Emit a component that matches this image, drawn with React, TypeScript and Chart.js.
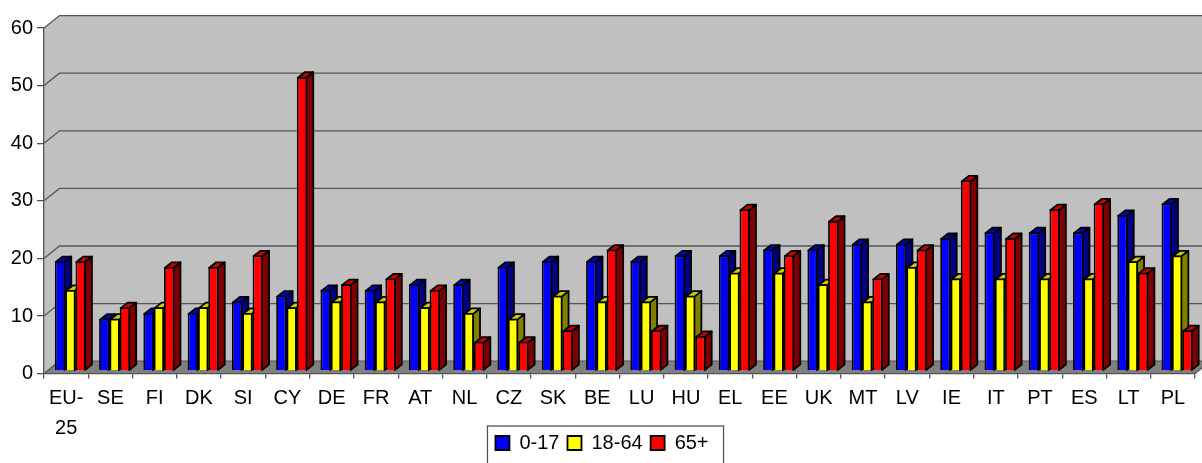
import React, { useEffect, useRef } from "react";
import { Chart, registerables } from "chart.js";

Chart.register(...registerables);

const categories: (string | string[])[] = [["EU-", "25"], "SE", "FI", "DK", "SI", "CY", "DE", "FR", "AT", "NL", "CZ", "SK", "BE", "LU", "HU", "EL", "EE", "UK", "MT", "LV", "IE", "IT", "PT", "ES", "LT", "PL"];
const age0to17 = [19, 9, 10, 10, 12, 13, 14, 14, 15, 15, 18, 19, 19, 19, 20, 20, 21, 21, 22, 22, 23, 24, 24, 24, 27, 29];
const age18to64 = [14, 9, 11, 11, 10, 11, 12, 12, 11, 10, 9, 13, 12, 12, 13, 17, 17, 15, 12, 18, 16, 16, 16, 16, 19, 20];
const age65plus = [19, 11, 18, 18, 20, 51, 15, 16, 14, 5, 5, 7, 21, 7, 6, 28, 20, 26, 16, 21, 33, 23, 28, 29, 17, 7];
const yTicks = [0, 10, 20, 30, 40, 50, 60];

const FONT = "'Liberation Sans', Arial, sans-serif";
const WALL_DX = 15.5;
const WALL_DY = -12.4;
const BAR_DX = 4.2;
const BAR_DY = -3;
const DEPTH_DX = 7;
const DEPTH_DY = -5.5;
const faces = [
  { top: "#0000c0", side: "#000080" },
  { top: "#cccc00", side: "#808000" },
  { top: "#cc0000", side: "#800000" },
];

const plugin3d = {
  id: "plugin3d",
  afterLayout(chart: any) {
    // keep tall / wide tick labels from being clipped to the axis boxes
    chart.scales.y.left = 0;
    chart.scales.x.bottom = chart.height;
  },
  beforeDraw(chart: any) {
    const { ctx, chartArea: a, scales } = chart;
    const y = scales.y;
    ctx.save();
    ctx.fillStyle = "#c0c0c0";
    ctx.beginPath();
    ctx.moveTo(a.left, a.bottom);
    ctx.lineTo(a.left, a.top);
    ctx.lineTo(a.left + WALL_DX, a.top + WALL_DY);
    ctx.lineTo(a.right + WALL_DX, a.top + WALL_DY);
    ctx.lineTo(a.right + WALL_DX, a.bottom + WALL_DY);
    ctx.lineTo(a.left + WALL_DX, a.bottom + WALL_DY);
    ctx.closePath();
    ctx.fill();
    ctx.fillStyle = "#808080";
    ctx.beginPath();
    ctx.moveTo(a.left, a.bottom);
    ctx.lineTo(a.left + WALL_DX, a.bottom + WALL_DY);
    ctx.lineTo(a.right + WALL_DX, a.bottom + WALL_DY);
    ctx.lineTo(a.right, a.bottom);
    ctx.closePath();
    ctx.fill();
    ctx.strokeStyle = "#555555";
    ctx.lineWidth = 1.3;
    for (const v of yTicks) {
      const py = y.getPixelForValue(v);
      ctx.beginPath();
      ctx.moveTo(a.left, py);
      ctx.lineTo(a.left + WALL_DX, py + WALL_DY);
      ctx.lineTo(a.right + WALL_DX, py + WALL_DY);
      ctx.stroke();
    }
    ctx.beginPath();
    ctx.moveTo(a.right, a.bottom);
    ctx.lineTo(a.right + WALL_DX, a.bottom + WALL_DY);
    ctx.stroke();
    ctx.restore();
  },
  beforeDatasetsDraw(chart: any) {
    const { ctx } = chart;
    ctx.save();
    ctx.translate(BAR_DX, BAR_DY);
    ctx.lineJoin = "round";
    chart.data.datasets.forEach((_: any, index: number) => {
      const meta = chart.getDatasetMeta(index);
      const face = faces[index];
      ctx.lineWidth = 1.8;
      ctx.strokeStyle = "#000000";
      for (const bar of meta.data) {
        const half = bar.width / 2;
        const l = bar.x - half + 0.9;
        const r = bar.x + half - 0.9;
        const t = bar.y + 0.9;
        const b = bar.base;
        ctx.fillStyle = face.side;
        ctx.beginPath();
        ctx.moveTo(r, t);
        ctx.lineTo(r + DEPTH_DX, t + DEPTH_DY);
        ctx.lineTo(r + DEPTH_DX, b + DEPTH_DY);
        ctx.lineTo(r, b);
        ctx.closePath();
        ctx.fill();
        ctx.stroke();
        ctx.fillStyle = face.top;
        ctx.beginPath();
        ctx.moveTo(l, t);
        ctx.lineTo(l + DEPTH_DX, t + DEPTH_DY);
        ctx.lineTo(r + DEPTH_DX, t + DEPTH_DY);
        ctx.lineTo(r, t);
        ctx.closePath();
        ctx.fill();
        ctx.stroke();
      }
      // front faces of this series, drawn left-to-right so each one covers its neighbour's side
      meta.controller.draw();
    });
    ctx.restore();
  },
  beforeDatasetDraw() {
    // every series was already painted in beforeDatasetsDraw
    return false;
  },
  afterDraw(chart: any) {
    const { ctx, legend } = chart;
    const boxes = legend.legendHitBoxes;
    const first = boxes[0];
    const last = boxes[boxes.length - 1];
    ctx.save();
    ctx.strokeStyle = "#555555";
    ctx.lineWidth = 1.3;
    ctx.strokeRect(first.left - 8, legend.top + 1, last.left + last.width - first.left + 23, 60);
    ctx.restore();
  },
};

export default function App() {
  const ref = useRef<HTMLCanvasElement>(null);
  useEffect(() => {
    const style = (data: number[], label: string, color: string) => ({
      label,
      data,
      backgroundColor: color,
      borderColor: "#000000",
      borderWidth: 1.8,
      barPercentage: 1,
      categoryPercentage: 0.7,
    });
    const chart = new Chart(ref.current!, {
      type: "bar",
      data: {
        labels: categories as any,
        datasets: [
          style(age0to17, "0-17", "#0000ff"),
          style(age18to64, "18-64", "#ffff00"),
          style(age65plus, "65+", "#ff0000"),
        ] as any,
      },
      plugins: [plugin3d as any],
      options: {
        responsive: false,
        animation: false,
        devicePixelRatio: 1,
        layout: { padding: { left: 9, right: 7, top: 28, bottom: 0 } },
        plugins: {
          title: { display: false },
          tooltip: { enabled: false },
          legend: {
            position: "bottom",
            labels: {
              color: "#000000",
              font: { family: FONT, size: 20 },
              boxWidth: 14,
              boxHeight: 14,
              padding: 8,
            },
          },
        },
        scales: {
          x: {
            offset: true,
            afterFit: (s: any) => {
              s.height = 51.4;
            },
            grid: { offset: true, drawOnChartArea: false, drawTicks: true, tickLength: 5, color: "#555555", lineWidth: 1.3 },
            border: { display: true, color: "#555555", width: 1.3 },
            ticks: {
              color: "#000000",
              font: { family: FONT, size: 20, lineHeight: 1.5 },
              padding: 5,
              maxRotation: 0,
              minRotation: 0,
              autoSkip: false,
            },
          },
          y: {
            min: 0,
            max: 60,
            afterFit: (s: any) => {
              s.width = 35;
            },
            grid: { drawOnChartArea: false, drawTicks: true, tickLength: 7, color: "#555555", lineWidth: 1.3 },
            border: { display: true, color: "#555555", width: 1.3 },
            ticks: {
              stepSize: 10,
              color: "#000000",
              font: { family: FONT, size: 20 },
              padding: 4,
            },
          },
        },
      } as any,
    });
    return () => chart.destroy();
  }, []);
  return (
    <div style={{ position: "fixed", left: 0, top: 0, width: 1202, height: 463, background: "#ffffff" }}>
      <canvas ref={ref} width={1202} height={463} style={{ display: "block" }} />
    </div>
  );
}
